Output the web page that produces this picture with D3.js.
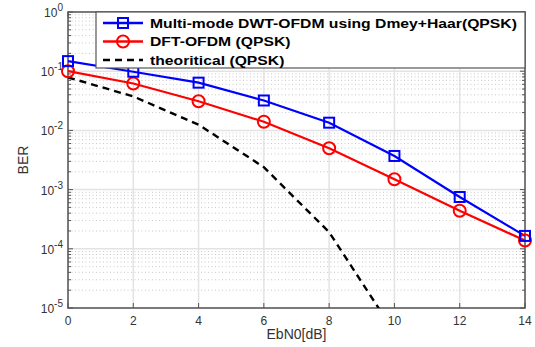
<!DOCTYPE html>
<html>
<head>
<meta charset="utf-8">
<script src="https://cdn.jsdelivr.net/npm/d3@7"></script>
<style>
  body { margin: 0; background: #fff; }
  svg text { font-family: "Liberation Sans", Arial, sans-serif; }
</style>
</head>
<body>
<svg id="chart" width="535" height="347"></svg>
<script>
// values
const ebn0 = [0, 2, 4, 6, 8, 10, 12, 14];
const berDwt = [0.148, 0.098, 0.064, 0.032, 0.0135, 0.0037, 0.00075, 0.000165];
const berDft = [0.1, 0.062, 0.031, 0.014, 0.005, 0.0015, 0.00044, 0.000138];
const ebn0Theory = [0, 2, 4, 6, 8, 10];
const berTheory = [0.0786, 0.0375, 0.0125, 0.00239, 0.000191, 0.00000387];
const xTicks = [0, 2, 4, 6, 8, 10, 12, 14];
const yDecades = [0, -1, -2, -3, -4, -5];
const legendLabels = ["Multi-mode DWT-OFDM using Dmey+Haar(QPSK)", "DFT-OFDM (QPSK)", "theoritical (QPSK)"];

const margin = {top: 12, right: 10, bottom: 39, left: 68};
const width = 535, height = 347;
const svg = d3.select("#chart");

const x = d3.scaleLinear().domain([0, 14]).range([margin.left, width - margin.right]);
const y = d3.scaleLog().domain([1e-5, 1]).range([height - margin.bottom, margin.top]);

// clip for the plotted lines
svg.append("clipPath").attr("id", "clip")
    .append("rect")
    .attr("x", margin.left).attr("y", margin.top)
    .attr("width", x(14) - x(0)).attr("height", y(1e-5) - y(1));

// minor grid (dotted)
let minors = [];
for (let d = -5; d < 0; d++) {
    for (let m = 2; m <= 9; m++) minors.push(m * Math.pow(10, d));
}
svg.append("g").selectAll("line").data(minors).enter().append("line")
    .attr("x1", x(0)).attr("x2", x(14))
    .attr("y1", d => y(d)).attr("y2", d => y(d))
    .attr("stroke", "#c8c8c8").attr("stroke-width", 1)
    .attr("stroke-dasharray", "1,2.5");

// major grid
svg.append("g").selectAll("line").data(yDecades).enter().append("line")
    .attr("x1", x(0)).attr("x2", x(14))
    .attr("y1", d => y(Math.pow(10, d))).attr("y2", d => y(Math.pow(10, d)))
    .attr("stroke", "#e3e3e3").attr("stroke-width", 1.5);
svg.append("g").selectAll("line").data(xTicks).enter().append("line")
    .attr("x1", d => x(d)).attr("x2", d => x(d))
    .attr("y1", y(1)).attr("y2", y(1e-5))
    .attr("stroke", "#e3e3e3").attr("stroke-width", 1.5);

// axes box and ticks
const axisColor = "#555";
svg.append("rect")
    .attr("x", x(0)).attr("y", y(1))
    .attr("width", x(14) - x(0)).attr("height", y(1e-5) - y(1))
    .attr("fill", "none").attr("stroke", axisColor).attr("stroke-width", 1.5);

const ticks = svg.append("g").attr("stroke", axisColor).attr("stroke-width", 1);
xTicks.forEach(t => {
    ticks.append("line").attr("x1", x(t)).attr("x2", x(t)).attr("y1", y(1e-5)).attr("y2", y(1e-5) - 5);
    ticks.append("line").attr("x1", x(t)).attr("x2", x(t)).attr("y1", y(1)).attr("y2", y(1) + 5);
});
yDecades.forEach(d => {
    let v = Math.pow(10, d);
    ticks.append("line").attr("x1", x(0)).attr("x2", x(0) + 5).attr("y1", y(v)).attr("y2", y(v));
    ticks.append("line").attr("x1", x(14)).attr("x2", x(14) - 5).attr("y1", y(v)).attr("y2", y(v));
});
minors.forEach(v => {
    ticks.append("line").attr("x1", x(0)).attr("x2", x(0) + 3).attr("y1", y(v)).attr("y2", y(v));
    ticks.append("line").attr("x1", x(14)).attr("x2", x(14) - 3).attr("y1", y(v)).attr("y2", y(v));
});

// tick labels
svg.append("g").selectAll("text").data(xTicks).enter().append("text")
    .attr("x", d => x(d)).attr("y", y(1e-5) + 17)
    .attr("text-anchor", "middle")
    .attr("font-size", 12).attr("fill", "#333")
    .text(d => d);

const yl = svg.append("g").selectAll("text").data(yDecades).enter().append("text")
    .attr("x", x(0) - 5).attr("y", d => y(Math.pow(10, d)) + 5)
    .attr("text-anchor", "end")
    .attr("font-size", 12).attr("fill", "#333");
yl.append("tspan").text("10");
yl.append("tspan").attr("dy", -6).attr("font-size", 10).text(d => d === 0 ? "0" : d);

// axis titles
svg.append("text")
    .attr("x", (x(0) + x(14)) / 2).attr("y", height - 8)
    .attr("text-anchor", "middle").attr("font-size", 14).attr("fill", "#333")
    .text("EbN0[dB]");
svg.append("text")
    .attr("transform", "translate(28," + ((y(1) + y(1e-5)) / 2) + ") rotate(-90)")
    .attr("text-anchor", "middle").attr("font-size", 14).attr("fill", "#333")
    .text("BER");

// series
const line = d3.line().x(d => x(d[0])).y(d => y(d[1]));
const plot = svg.append("g").attr("clip-path", "url(#clip)");

plot.append("path")
    .datum(d3.zip(ebn0Theory, berTheory))
    .attr("d", line).attr("fill", "none")
    .attr("stroke", "#000").attr("stroke-width", 2.4)
    .attr("stroke-dasharray", "7,5");

plot.append("path")
    .datum(d3.zip(ebn0, berDft))
    .attr("d", line).attr("fill", "none")
    .attr("stroke", "#ff0000").attr("stroke-width", 2.2);
svg.append("g").selectAll("circle").data(d3.zip(ebn0, berDft)).enter().append("circle")
    .attr("cx", d => x(d[0])).attr("cy", d => y(d[1])).attr("r", 6)
    .attr("fill", "none").attr("stroke", "#ff0000").attr("stroke-width", 2);

plot.append("path")
    .datum(d3.zip(ebn0, berDwt))
    .attr("d", line).attr("fill", "none")
    .attr("stroke", "#0000ff").attr("stroke-width", 2.2);
svg.append("g").selectAll("rect").data(d3.zip(ebn0, berDwt)).enter().append("rect")
    .attr("x", d => x(d[0]) - 5).attr("y", d => y(d[1]) - 5)
    .attr("width", 10).attr("height", 10)
    .attr("fill", "none").attr("stroke", "#0000ff").attr("stroke-width", 2);

// legend
const lg = svg.append("g");
lg.append("rect")
    .attr("x", 96).attr("y", y(1))
    .attr("width", x(14) - 96).attr("height", 56)
    .attr("fill", "#fff").attr("stroke", "#555").attr("stroke-width", 1.2);
const legendColors = ["#0000ff", "#ff0000", "#000"];
legendLabels.forEach((lab, i) => {
    let ly = y(1) + 11 + i * 18.5;
    let l = lg.append("line")
        .attr("x1", 103).attr("x2", 143).attr("y1", ly).attr("y2", ly)
        .attr("stroke", legendColors[i]).attr("stroke-width", 2.4);
    if (i === 2) l.attr("stroke-dasharray", "7,5");
    if (i === 0) lg.append("rect").attr("x", 118).attr("y", ly - 5).attr("width", 10).attr("height", 10)
        .attr("fill", "none").attr("stroke", legendColors[i]).attr("stroke-width", 2);
    if (i === 1) lg.append("circle").attr("cx", 123).attr("cy", ly).attr("r", 6)
        .attr("fill", "none").attr("stroke", legendColors[i]).attr("stroke-width", 2);
    // the source text is stretched sideways, so widen it a little
    lg.append("text")
        .attr("transform", "translate(150," + (ly + 4.5) + ") scale(1.21,1)")
        .attr("font-size", 13).attr("font-weight", "bold").attr("fill", "#000")
        .text(lab);
});
</script>
</body>
</html>
